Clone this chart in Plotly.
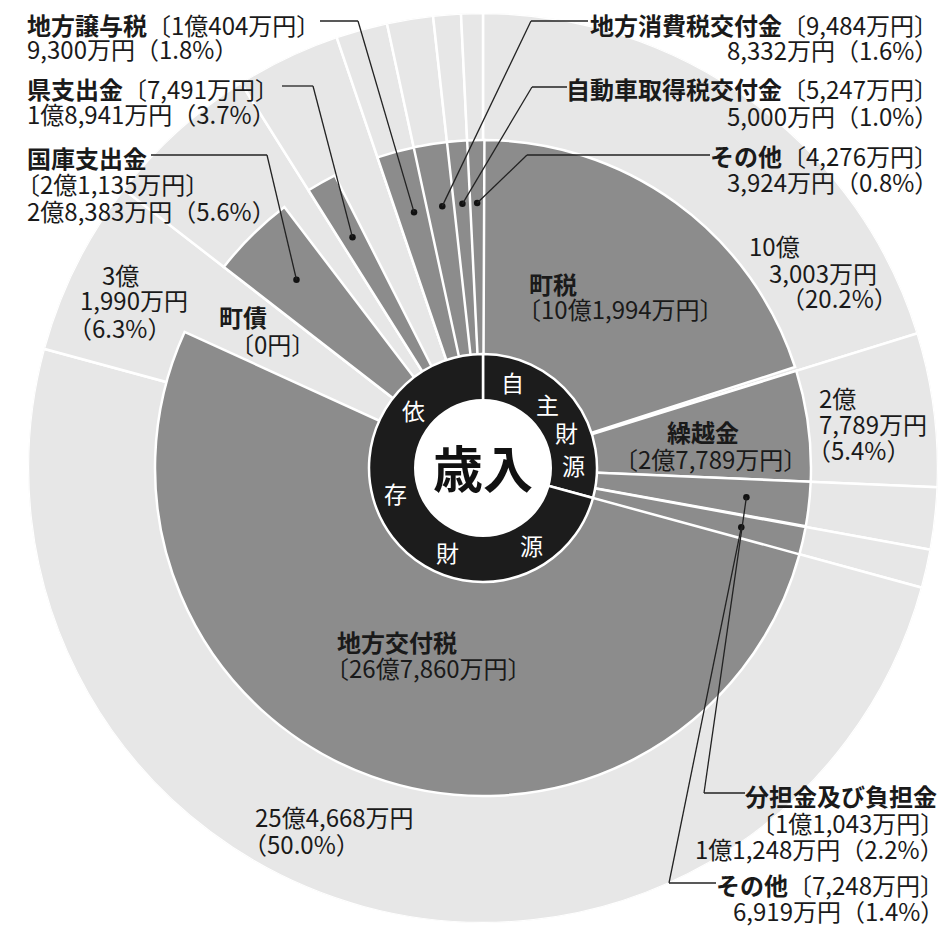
import math
import plotly.graph_objects as go

# ---------------- data (万円) ----------------
names = ["町税", "繰越金", "分担金及び負担金", "その他", "地方交付税", "町債",
         "国庫支出金", "県支出金", "地方譲与税", "地方消費税交付金",
         "自動車取得税交付金", "その他"]
groups = ["自主財源"] * 4 + ["依存財源"] * 8
current = [103003, 27789, 11248, 6919, 254668, 31990, 28383, 18941, 9300, 8332, 5000, 3924]
bracket = [101994, 27789, 11043, 7248, 267860, 0, 21135, 7491, 10404, 9484, 5247, 4276]
percent = [20.2, 5.4, 2.2, 1.4, 50.0, 6.3, 5.6, 3.7, 1.8, 1.6, 1.0, 0.8]
ring_names = ["自主財源", "依存財源"]

# ---------------- geometry / style ----------------
OFF = 8                              # page body margin (px)
W, H = 940, 922                      # figure size
CX, CY, R = 483, 468, 455            # polar centre & radius in screen px ; radial unit = 1 px
R_DARK, R_RING, R_HOLE, R_DOT = 328, 114, 69, 265
LIGHT, DARK, BLACK = "#e7e7e7", "#8c8c8c", "#1c1c1c"
FONT = "Noto Sans CJK JP"
FS = 24

total = sum(current)
deg = 360.0 / total
starts = []
acc = 0.0
for v in current:
    starts.append(acc)
    acc += v * deg
out_w = [v * deg for v in current]
out_t = [s + w / 2 for s, w in zip(starts, out_w)]
in_w = [v * deg for v in bracket]
in_t = [s + w / 2 for s, w in zip(starts, in_w)]

def fmt(v):
    if v == 0:
        return "0円"
    oku, man = divmod(v, 10000)
    return f"{oku}億{man:,}万円" if oku else f"{man:,}万円"

def split(v):
    oku, man = divmod(v, 10000)
    return f"{oku}億", f"{man:,}万円"

def pct(p):
    return f"（{p:.1f}%）"

def polar_px(theta, r):
    a = math.radians(theta)
    return CX + r * math.sin(a), CY - r * math.cos(a)

def P(x, y):
    return (x - OFF) / W, 1 - (y - OFF) / H

fig = go.Figure()

# outer (light) ring
fig.add_trace(go.Barpolar(r=[R] * len(current), theta=out_t, width=out_w,
                          marker=dict(color=LIGHT, line=dict(color="white", width=2.5)),
                          hoverinfo="skip", showlegend=False))
# inner (dark) wedges
idx = [i for i, v in enumerate(bracket) if v > 0]
fig.add_trace(go.Barpolar(r=[R_DARK] * len(idx), theta=[in_t[i] for i in idx],
                          width=[in_w[i] for i in idx],
                          marker=dict(color=DARK, line=dict(color="white", width=2.5)),
                          hoverinfo="skip", showlegend=False))
# black ring: 自主財源 / 依存財源
g_tot = [sum(v for v, g in zip(current, groups) if g == n) * deg for n in ring_names]
fig.add_trace(go.Barpolar(r=[R_RING] * 2, theta=[g_tot[0] / 2, g_tot[0] + g_tot[1] / 2],
                          width=g_tot,
                          marker=dict(color=BLACK, line=dict(color="white", width=2.5)),
                          hoverinfo="skip", showlegend=False))
# white centre
fig.add_trace(go.Barpolar(r=[R_HOLE], theta=[180], width=[360],
                          marker=dict(color="white", line=dict(color="white", width=0)),
                          hoverinfo="skip", showlegend=False))

# leader dots
dot_idx = [2, 3, 6, 7, 8, 9, 10, 11]
fig.add_trace(go.Scatterpolar(r=[R_DOT] * len(dot_idx), theta=[in_t[i] for i in dot_idx],
                              mode="markers", marker=dict(color="#111", size=6.5),
                              hoverinfo="skip", showlegend=False))

# ---------------- labels ----------------
ann = []
def T(text, x, y, anchor="left", size=FS, color="#1a1a1a"):
    px, py = P(x, y)
    ann.append(dict(text=text, x=px, y=py, xref="paper", yref="paper",
                    xanchor=anchor, yanchor="middle", showarrow=False,
                    font=dict(family=FONT, size=size, color=color)))

b = lambda i: f"<b>{names[i]}</b>"
br = lambda i: f"〔{fmt(bracket[i])}〕"

# 町税
T(b(0), 527, 283); T(br(0), 515, 308)
o, m = split(current[0]); T(o, 747, 245); T(m, 767, 272); T(pct(percent[0]), 779, 298)
# 繰越金
T(b(1), 703, 431, "center"); T(br(1), 710, 458, "center")
o, m = split(current[1]); T(o, 817, 397); T(m, 817, 423); T(pct(percent[1]), 805, 450)
# 分担金及び負担金
T(b(2), 939, 795, "right"); T(br(2), 946, 822, "right")
T(fmt(current[2]) + pct(percent[2]), 946, 848, "right")
# その他 (自主)
T(b(3) + br(3), 946, 884, "right"); T(fmt(current[3]) + pct(percent[3]), 946, 910, "right")
# 地方交付税
T(b(4), 335, 641); T(br(4), 323, 667)
T(fmt(current[4]), 253, 816); T(pct(percent[4]), 241, 843)
# 町債
T(b(5), 217, 316); T(br(5), 228, 343)
o, m = split(current[5]); T(o, 100, 275); T(m, 78, 300); T(pct(percent[5]), 66, 327)
# 国庫支出金
T(b(6), 25, 157); T(br(6), 14, 184); T(fmt(current[6]) + pct(percent[6]), 25, 210)
# 県支出金
T(b(7) + br(7), 25, 88); T(fmt(current[7]) + pct(percent[7]), 25, 114)
# 地方譲与税
T(b(8) + br(8), 25, 24); T(fmt(current[8]) + pct(percent[8]), 25, 49)
# 右上
T(b(9) + br(9), 940, 24, "right"); T(fmt(current[9]) + pct(percent[9]), 940, 50, "right")
T(b(10) + br(10), 940, 88, "right"); T(fmt(current[10]) + pct(percent[10]), 940, 115, "right")
T(b(11) + br(11), 940, 155, "right"); T(fmt(current[11]) + pct(percent[11]), 940, 182, "right")

# centre texts
T("<b>歳入</b>", CX, CY - 2, "center", size=50, color="#111")
ring_chars = [("自", 19), ("主", 45), ("財", 67), ("源", 88),
              ("源", 148), ("財", 203), ("存", 254), ("依", 310)]
for ch, ang in ring_chars:
    x, y = polar_px(ang, 91)
    T(ch, x, y, "center", size=23, color="white")

# leader lines (text end, corner, y) -> dot
leaders = {8: (320, 358, 21), 7: (282, 313, 86), 6: (151, 267, 155),
           9: (588, 531, 21), 10: (567, 532, 87), 11: (710, 527, 155),
           2: (745, 704, 793), 3: (716, 669, 883)}
shapes = []
for i, (x0, x1, y) in leaders.items():
    dx, dy = polar_px(in_t[i], R_DOT)
    pts = [(x0, y), (x1, y), (dx, dy)]
    for (ax, ay), (bx, by) in zip(pts[:-1], pts[1:]):
        pa, pb = P(ax, ay), P(bx, by)
        shapes.append(dict(type="line", xref="paper", yref="paper",
                           x0=pa[0], y0=pa[1], x1=pb[0], y1=pb[1],
                           line=dict(color="#222", width=1.3)))

fig.update_layout(
    width=W, height=H, margin=dict(l=0, r=0, t=0, b=0),
    paper_bgcolor="white", plot_bgcolor="white",
    polar=dict(
        domain=dict(x=[(CX - R - OFF) / W, (CX + R - OFF) / W],
                    y=[1 - (CY + R - OFF) / H, 1 - (CY - R - OFF) / H]),
        bgcolor="rgba(0,0,0,0)", barmode="overlay", bargap=0, hole=0,
        angularaxis=dict(direction="clockwise", rotation=90, visible=False),
        radialaxis=dict(range=[0, R], visible=False),
    ),
    annotations=ann, shapes=shapes, showlegend=False,
)

fig.write_html("out.html")
